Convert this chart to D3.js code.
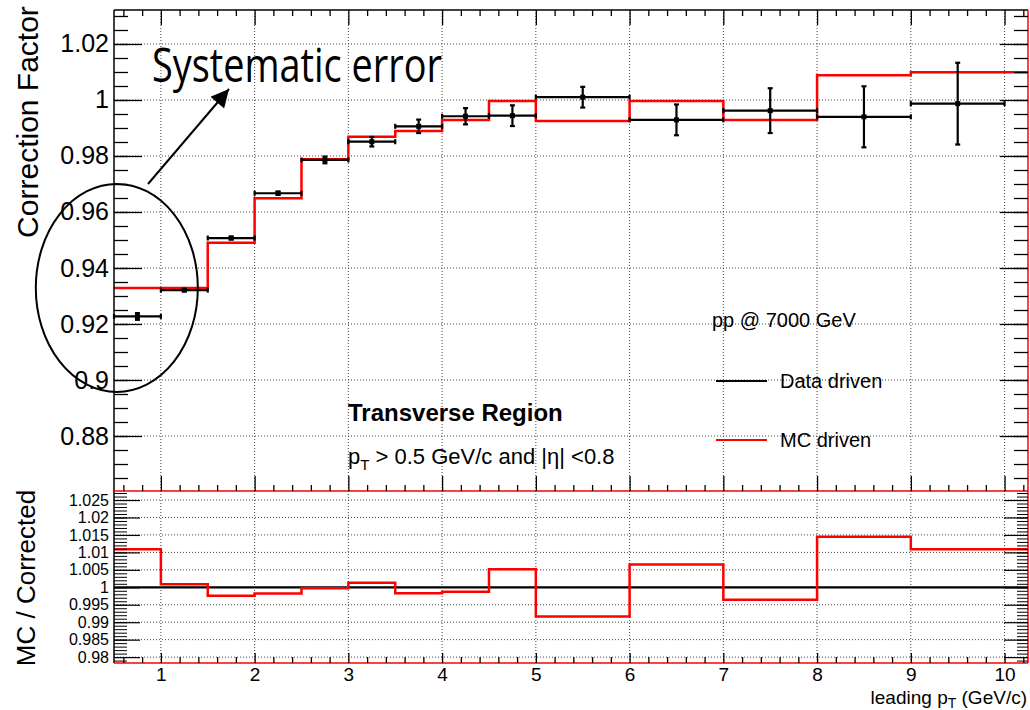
<!DOCTYPE html>
<html>
<head>
<meta charset="utf-8">
<script src="https://d3js.org/d3.v7.min.js"></script>
<style>
  body { margin: 0; background: #fff; }
  svg { display: block; }
</style>
</head>
<body>
<div id="chart"></div>
<script>
// bin edges in leading pT (GeV/c)
var binEdges = [0.5, 1, 1.5, 2, 2.5, 3, 3.5, 4, 4.5, 5, 6, 7, 8, 9, 10];
// data driven correction factor and its error
var dataDriven = [0.9227, 0.9321, 0.9507, 0.9667, 0.9786, 0.9851, 0.9906, 0.9942, 0.9944, 1.0010, 0.9929, 0.9962, 0.9940, 0.9987];
var dataErr    = [0.0012, 0.0004, 0.0005, 0.0006, 0.0012, 0.0017, 0.0024, 0.0029, 0.0037, 0.0037, 0.0055, 0.0080, 0.0109, 0.0146];
// MC driven correction factor
var mcDriven   = [0.9329, 0.9329, 0.9490, 0.9649, 0.9788, 0.9869, 0.9889, 0.9929, 0.9996, 0.9925, 0.9996, 0.9929, 1.0088, 1.0099];
// ratio MC / corrected
var ratio      = [1.0109, 1.0009, 0.9976, 0.9982, 0.9997, 1.0013, 0.9983, 0.9987, 1.0052, 0.9916, 1.0065, 0.9964, 1.0145, 1.0109];

var xTickLabels   = ["1", "2", "3", "4", "5", "6", "7", "8", "9", "10"];
var topTickLabels = ["0.88", "0.9", "0.92", "0.94", "0.96", "0.98", "1", "1.02"];
var botTickLabels = ["0.98", "0.985", "0.99", "0.995", "1", "1.005", "1.01", "1.015", "1.02", "1.025"];

var width = 1030, height = 710;
var left = 114, right = 1028;
var top0 = 10, mid = 491, bottom = 663;
var font = "'Liberation Sans', Arial, sans-serif";

var svg = d3.select("#chart").append("svg")
            .attr("width", width)
            .attr("height", height)
            .style("font-family", font);

var x = d3.scaleLinear().domain([0.5, 10.25]).range([left, right]);
var yTop = d3.scaleLinear().domain([0.86036, 1.03214]).range([mid, top0]);
var yBot = d3.scaleLinear().domain([0.97831, 1.02759]).range([bottom, mid]);

var xMajor = xTickLabels.map(Number);
var xMinor = d3.range(3, 52).map(function(i) { return i / 5; }).filter(function(v) { return v % 1 !== 0; });
var topMajor = topTickLabels.map(Number);
var topMinor = d3.range(173, 207).map(function(i) { return i / 200; });
var botMajor = botTickLabels.map(Number);
var botMinor = d3.range(979, 1028).map(function(i) { return i / 1000; });

// griglia tratteggiata
function grid(g, yScale, yVals, y0, y1) {
    g.selectAll("line.gx").data(xMajor).enter().append("line")
     .attr("x1", function(d) { return x(d); }).attr("x2", function(d) { return x(d); })
     .attr("y1", y0).attr("y2", y1);
    g.selectAll("line.gy").data(yVals).enter().append("line")
     .attr("x1", left).attr("x2", right)
     .attr("y1", function(d) { return yScale(d); }).attr("y2", function(d) { return yScale(d); });
}
var gGrid = svg.append("g")
               .attr("stroke", "#444")
               .attr("stroke-width", 1)
               .attr("stroke-dasharray", "1,2");
grid(gGrid, yTop, topMajor, top0, mid);
grid(gGrid, yBot, botMajor, mid, bottom);

// top panel: MC driven histogram
var step = d3.line()
             .x(function(d) { return x(d[0]); })
             .curve(d3.curveStepAfter);

var mcPts = mcDriven.map(function(v, i) { return [binEdges[i], v]; });
mcPts.push([x.domain()[1], mcDriven[mcDriven.length - 1]]);
svg.append("path")
   .attr("d", step.y(function(d) { return yTop(d[1]); })(mcPts))
   .attr("fill", "none")
   .attr("stroke", "#ff0000")
   .attr("stroke-width", 2.5);

// top panel: data driven points with errors
var gData = svg.append("g")
               .attr("stroke", "#000")
               .attr("stroke-width", 2.2);
dataDriven.forEach(function(v, i) {
    var xa = x(binEdges[i]), xb = x(binEdges[i + 1]), xc = (xa + xb) / 2;
    var yc = yTop(v), ylo = yTop(v - dataErr[i]), yhi = yTop(v + dataErr[i]);
    gData.append("line").attr("x1", xa).attr("x2", xb).attr("y1", yc).attr("y2", yc);
    gData.append("line").attr("x1", xa).attr("x2", xa).attr("y1", yc - 2.5).attr("y2", yc + 2.5);
    gData.append("line").attr("x1", xb).attr("x2", xb).attr("y1", yc - 2.5).attr("y2", yc + 2.5);
    gData.append("line").attr("x1", xc).attr("x2", xc).attr("y1", ylo).attr("y2", yhi);
    gData.append("line").attr("x1", xc - 2.5).attr("x2", xc + 2.5).attr("y1", ylo).attr("y2", ylo);
    gData.append("line").attr("x1", xc - 2.5).attr("x2", xc + 2.5).attr("y1", yhi).attr("y2", yhi);
    gData.append("rect").attr("x", xc - 2.5).attr("y", yc - 2.5).attr("width", 5).attr("height", 5)
         .attr("fill", "#000").attr("stroke", "none");
});

// bottom panel: reference line and ratio
svg.append("line")
   .attr("x1", left).attr("x2", right)
   .attr("y1", yBot(1)).attr("y2", yBot(1))
   .attr("stroke", "#000").attr("stroke-width", 2.2);

var ratioPts = ratio.map(function(v, i) { return [binEdges[i], v]; });
ratioPts.push([x.domain()[1], ratio[ratio.length - 1]]);
svg.append("path")
   .attr("d", step.y(function(d) { return yBot(d[1]); })(ratioPts))
   .attr("fill", "none")
   .attr("stroke", "#ff0000")
   .attr("stroke-width", 2.5);

// cornici
var gFrame = svg.append("g").attr("stroke-width", 1.5).attr("fill", "none");
gFrame.append("line").attr("x1", left).attr("x2", left).attr("y1", top0).attr("y2", bottom).attr("stroke", "#000");
gFrame.append("line").attr("x1", left).attr("x2", right).attr("y1", top0).attr("y2", top0).attr("stroke", "#000");
gFrame.append("line").attr("x1", right).attr("x2", right).attr("y1", top0).attr("y2", bottom).attr("stroke", "#ff0000");
gFrame.append("line").attr("x1", left).attr("x2", right).attr("y1", mid).attr("y2", mid).attr("stroke", "#ff0000");
gFrame.append("line").attr("x1", left).attr("x2", right).attr("y1", bottom).attr("y2", bottom).attr("stroke", "#ff0000");

// tacche: axis di d3 con tick verso l'interno
function ticks(axisFn, scale, vals, len, transform, w) {
    var g = svg.append("g")
               .attr("transform", transform)
               .call(axisFn(scale).tickValues(vals).tickSize(len).tickFormat(""));
    g.select(".domain").remove();
    g.selectAll("line").attr("stroke", "#000").attr("stroke-width", w || 1.3);
}
ticks(d3.axisRight, yTop, topMajor, 28, "translate(" + left + ",0)");
ticks(d3.axisRight, yTop, topMinor, 14, "translate(" + left + ",0)");
ticks(d3.axisLeft, yTop, topMajor, 28, "translate(" + right + ",0)");
ticks(d3.axisLeft, yTop, topMinor, 14, "translate(" + right + ",0)");
ticks(d3.axisRight, yBot, botMajor, 26, "translate(" + left + ",0)", 1.2);
ticks(d3.axisRight, yBot, botMinor, 13, "translate(" + left + ",0)", 1);
ticks(d3.axisLeft, yBot, botMajor, 24, "translate(" + right + ",0)", 1.2);
ticks(d3.axisLeft, yBot, botMinor, 11, "translate(" + right + ",0)", 1);
ticks(d3.axisBottom, x, xMajor, 15, "translate(0," + top0 + ")");
ticks(d3.axisBottom, x, xMinor, 6, "translate(0," + top0 + ")");
ticks(d3.axisTop, x, xMajor, 15, "translate(0," + mid + ")");
ticks(d3.axisTop, x, xMinor, 6, "translate(0," + mid + ")");
ticks(d3.axisTop, x, xMajor, 10, "translate(0," + bottom + ")");
ticks(d3.axisTop, x, xMinor, 6, "translate(0," + bottom + ")");

// etichette dei tick
function labels(axisFn, scale, vals, texts, size, transform) {
    var g = svg.append("g")
               .attr("transform", transform)
               .call(axisFn(scale).tickValues(vals).tickSize(0).tickPadding(5)
                     .tickFormat(function(d, i) { return texts[i]; }));
    g.select(".domain").remove();
    g.selectAll("text").attr("fill", "#000").style("font-size", size + "px").style("font-family", font);
}
labels(d3.axisLeft, yTop, topMajor, topTickLabels, 25, "translate(" + left + ",0)");
labels(d3.axisLeft, yBot, botMajor, botTickLabels, 16, "translate(" + left + ",0)");
labels(d3.axisBottom, x, xMajor, xTickLabels, 19, "translate(0," + bottom + ")");

// titoli degli assi
svg.append("text")
   .attr("transform", "translate(38,122) rotate(-90)")
   .attr("text-anchor", "middle")
   .style("font-size", "30px")
   .text("Correction Factor");

svg.append("text")
   .attr("transform", "translate(35,578) rotate(-90)")
   .attr("text-anchor", "middle")
   .style("font-size", "26px")
   .text("MC / Corrected");

var xt = svg.append("text")
            .attr("x", right - 1).attr("y", 704)
            .attr("text-anchor", "end")
            .style("font-size", "19px");
xt.append("tspan").text("leading p");
xt.append("tspan").attr("dy", 4).style("font-size", "14px").text("T");
xt.append("tspan").attr("dy", -4).text(" (GeV/c)");

// testo nel pannello
svg.append("text")
   .attr("x", 348).attr("y", 421)
   .style("font-size", "24px")
   .style("font-weight", "bold")
   .text("Transverse Region");

var cut = svg.append("text")
             .attr("x", 348).attr("y", 464)
             .style("font-size", "22px");
cut.append("tspan").text("p");
cut.append("tspan").attr("dy", 6).style("font-size", "15px").text("T");
cut.append("tspan").attr("dy", -6).text(" > 0.5 GeV/c and |\u03b7| <0.8");

// legenda
svg.append("text")
   .attr("x", 712).attr("y", 327)
   .style("font-size", "20px")
   .text("pp @ 7000 GeV");

var legend = [["Data driven", "#000", 381], ["MC driven", "#ff0000", 440]];
legend.forEach(function(l) {
    svg.append("line")
       .attr("x1", 716).attr("x2", 767)
       .attr("y1", l[2]).attr("y2", l[2])
       .attr("stroke", l[1]).attr("stroke-width", 2.2);
    svg.append("text")
       .attr("x", 780).attr("y", l[2] + 7)
       .style("font-size", "20px")
       .text(l[0]);
});

// annotazione "Systematic error"
svg.append("defs").append("marker")
   .attr("id", "arrow")
   .attr("viewBox", "0 0 10 10")
   .attr("refX", 10).attr("refY", 5)
   .attr("markerWidth", 22).attr("markerHeight", 18)
   .attr("markerUnits", "userSpaceOnUse")
   .attr("orient", "auto")
   .append("path")
   .attr("d", "M0,0 L10,5 L0,10 Z")
   .attr("fill", "#000");

svg.append("line")
   .attr("x1", 148).attr("y1", 184)
   .attr("x2", 229).attr("y2", 89)
   .attr("stroke", "#000").attr("stroke-width", 2)
   .attr("marker-end", "url(#arrow)");

svg.append("ellipse")
   .attr("cx", x(0.53)).attr("cy", yTop(0.9329))
   .attr("rx", 81).attr("ry", 104)
   .attr("fill", "none")
   .attr("stroke", "#000")
   .attr("stroke-width", 2);

svg.append("text")
   .attr("x", 152).attr("y", 82)
   .attr("textLength", 290)
   .attr("lengthAdjust", "spacingAndGlyphs")
   .style("font-family", "'Open Sans', 'Noto Sans', sans-serif")
   .style("font-size", "47px")
   .text("Systematic error");
</script>
</body>
</html>
